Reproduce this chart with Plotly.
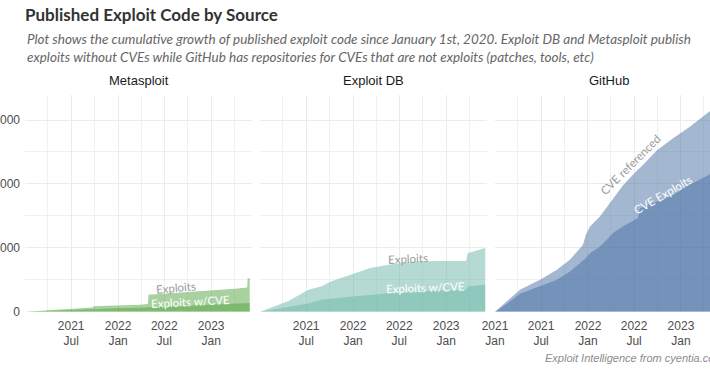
import plotly.graph_objects as go

# ---------------- data ----------------
ms_dates = ["2021-01-01", "2021-03-28", "2021-06-27", "2021-09-24", "2021-09-26", "2021-12-28",
            "2022-03-28", "2022-04-28", "2022-04-30", "2022-06-27", "2022-09-29", "2023-01-01",
            "2023-04-05", "2023-05-22", "2023-05-24", "2023-06-01"]
ms_exploits = [0, 40, 90, 130, 170, 185, 215, 240, 530, 560, 610, 660, 720, 760, 1050, 1050]
ms_cve = [0, 30, 60, 90, 95, 110, 125, 140, 145, 165, 190, 215, 250, 265, 270, 270]

edb_dates = ["2021-01-01", "2021-03-27", "2021-04-21", "2021-07-10", "2021-08-31", "2021-10-09",
             "2022-01-09", "2022-03-09", "2022-05-20", "2022-09-01", "2022-12-15", "2023-03-20",
             "2023-03-26", "2023-06-03"]
edb_exploits = [0, 270, 330, 690, 800, 950, 1210, 1365, 1470, 1570, 1590, 1590, 1830, 1990]
edb_cve = [0, 110, 165, 260, 375, 410, 480, 520, 580, 630, 665, 690, 790, 845]

gh_dates = ["2021-01-01", "2021-02-17", "2021-04-09", "2021-06-27", "2021-09-01", "2021-10-22",
            "2021-12-12", "2021-12-24", "2022-01-09", "2022-02-17", "2022-03-28", "2022-04-09",
            "2022-05-18", "2022-07-16", "2022-07-24", "2022-09-29", "2022-12-01", "2023-02-05",
            "2023-04-25", "2023-06-10"]
gh_referenced = [0, 320, 690, 1000, 1310, 1625, 2090, 2420, 2665, 2980, 3400, 3560, 3950, 4450,
                 4500, 5050, 5430, 5790, 6280, 6500]
gh_cve_exploits = [0, 250, 560, 790, 1000, 1260, 1625, 1680, 1830, 2040, 2350, 2460, 2665, 2930,
                   3240, 3450, 3650, 3970, 4330, 4500]

panel_titles = ["Metasploit", "Exploit DB", "GitHub"]
y_tickvals = [0, 2000, 4000, 6000]
y_ticktext = ["0", "2000", "4000", "6000"]
x_tickvals_a = ["2021-07-01", "2022-01-01", "2022-07-01", "2023-01-01"]
x_ticktext_a = ["2021<br>Jul", "2022<br>Jan", "2022<br>Jul", "2023<br>Jan"]
x_tickvals_b = ["2021-01-01", "2021-07-01", "2022-01-01", "2022-07-01", "2023-01-01"]
x_ticktext_b = ["2021<br>Jan", "2021<br>Jul", "2022<br>Jan", "2022<br>Jul", "2023<br>Jan"]
minor_x = ["2021-04-01", "2021-10-01", "2022-04-01", "2022-10-01", "2023-04-01"]
minor_y = [1000, 3000, 5000]

# ---------------- styling ----------------
W, H = 710, 375
green = "rgba(81,163,63,0.5)"
teal = "rgba(105,181,167,0.5)"
blue = "rgba(71,111,163,0.5)"
grid = "#ebebeb"
label_font = "Lato"
axis_font = "Liberation Sans"

fig = go.Figure()

def add_area(x, y, color, xa, ya):
    fig.add_trace(go.Scatter(x=x, y=y, mode="lines", fill="tozeroy", fillcolor=color,
                             line=dict(width=0), xaxis=xa, yaxis=ya, hoverinfo="skip",
                             showlegend=False))

add_area(ms_dates, ms_exploits, green, "x", "y")
add_area(ms_dates, ms_cve, green, "x", "y")
add_area(edb_dates, edb_exploits, teal, "x2", "y2")
add_area(edb_dates, edb_cve, teal, "x2", "y2")
add_area(gh_dates, gh_referenced, blue, "x3", "y3")
add_area(gh_dates, gh_cve_exploits, blue, "x3", "y3")

def px_x(p):
    return p / W

def px_y(p):
    return 1 - p / H

doms = [(25, 252), (260, 487), (495, 710)]
ydom = [px_y(311.7), px_y(95)]
yrange = [0, (311.7 - 95) / 0.03195]
xranges = [["2021-01-01", "2023-06-10"], ["2021-01-01", "2023-06-10"], ["2021-01-01", "2023-04-25"]]

for i in range(3):
    sfx = "" if i == 0 else str(i + 1)
    tv, tt = (x_tickvals_b, x_ticktext_b) if i == 2 else (x_tickvals_a, x_ticktext_a)
    fig.layout["xaxis" + sfx] = dict(
        domain=[px_x(doms[i][0]), px_x(doms[i][1])], range=xranges[i], type="date",
        tickmode="array", tickvals=tv, ticktext=tt, showgrid=True, gridcolor=grid, gridwidth=1,
        zeroline=False, showline=False, ticks="", automargin=False, ticklabelstandoff=5,
        tickfont=dict(family=axis_font, size=12, color="#4d4d4d"),
        minor=dict(tickmode="array", tickvals=minor_x, showgrid=True, gridcolor="#f0f0f0", gridwidth=1),
        anchor="y" + sfx, fixedrange=True)
    fig.layout["yaxis" + sfx] = dict(
        domain=ydom, range=yrange, tickmode="array", tickvals=y_tickvals, ticktext=y_ticktext,
        showticklabels=(i == 0), showgrid=True, gridcolor=grid, gridwidth=1, zeroline=False,
        showline=False, ticks="", automargin=False, ticklabelstandoff=4,
        tickfont=dict(family=axis_font, size=12, color="#4d4d4d"),
        minor=dict(tickmode="array", tickvals=minor_y, showgrid=True, gridcolor="#f0f0f0", gridwidth=1),
        anchor="x" + sfx, fixedrange=True)

ann = []
for i, t in enumerate(panel_titles):
    ann.append(dict(text=t, x=px_x(doms[i][0] + 113.5), y=px_y(81),
                    xref="paper", yref="paper", showarrow=False, xanchor="center", yanchor="middle",
                    font=dict(family=axis_font, size=13, color="#1a1a1a")))

def area_label(text, x, y, xa, ya, color, angle, size=11.5):
    ann.append(dict(text=text, x=x, y=y, xref=xa, yref=ya, showarrow=False, textangle=angle,
                    xanchor="center", yanchor="middle",
                    font=dict(family=label_font, size=size, color=color)))

area_label("Exploits", "2022-08-16", 742, "x", "y", "#9a9a9a", -5)
area_label("Exploits w/CVE", "2022-10-11", 335, "x", "y", "white", -3)
area_label("Exploits", "2022-08-04", 1680, "x2", "y2", "#9a9a9a", -3)
area_label("Exploits w/CVE", "2022-10-10", 773, "x2", "y2", "white", -2)
area_label("CVE referenced", "2022-06-17", 4592, "x3", "y3", "#9a9a9a", -45)
area_label("CVE Exploits", "2022-10-22", 3684, "x3", "y3", "white", -30)

ann.append(dict(text="<i>Plot shows the cumulative growth of published exploit code since January 1st, 2020. "
                     "Exploit DB and Metasploit publish<br>exploits without CVEs while GitHub has repositories "
                     "for CVEs that are not exploits (patches, tools, etc)</i>",
                x=px_x(25), y=px_y(29), xref="paper", yref="paper", showarrow=False, xanchor="left",
                yanchor="top", align="left",
                font=dict(family=label_font, size=13.5, color="#666666")))
ann.append(dict(text="<i>Exploit Intelligence from cyentia.com</i>", x=px_x(543), y=px_y(358),
                xref="paper", yref="paper", showarrow=False, xanchor="left", yanchor="middle",
                font=dict(family=axis_font, size=11, color="#8c8c8c")))

fig.update_layout(
    width=W, height=H, margin=dict(l=0, r=0, t=0, b=0),
    paper_bgcolor="white", plot_bgcolor="white",
    title=dict(text="<b>Published Exploit Code by Source</b>", x=px_x(25), xanchor="left",
               y=px_y(15), yanchor="middle", xref="paper", yref="paper",
               font=dict(family=label_font, size=17, color="#333333")),
    annotations=ann, showlegend=False,
)

fig.write_html("out.html", config={"displayModeBar": False},
               post_script="document.body.style.margin='0';document.body.style.overflow='hidden';")
